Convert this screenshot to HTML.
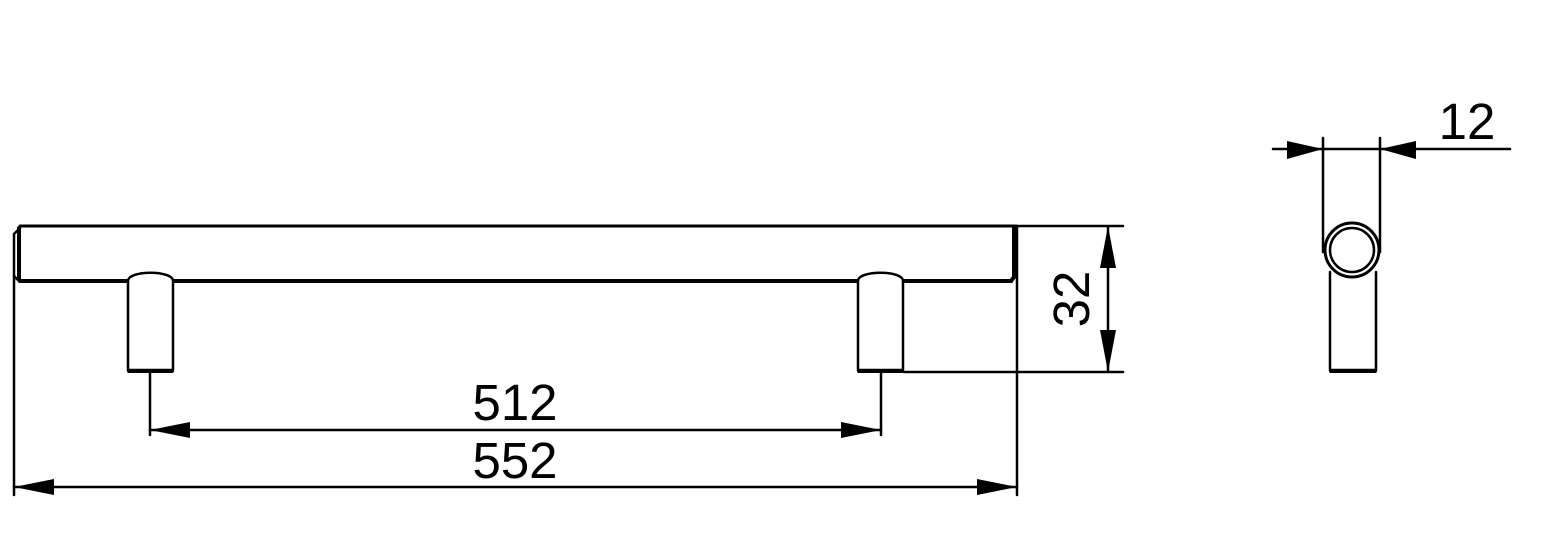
<!DOCTYPE html>
<html><head><style>html,body{margin:0;padding:0;background:#fff}</style></head>
<body>
<svg width="1549" height="545" viewBox="0 0 1549 545" xmlns="http://www.w3.org/2000/svg" font-family="Liberation Sans, sans-serif">
<g stroke="#000" fill="none" stroke-linecap="round" stroke-linejoin="round">
  <path d="M20,226 L1016,226" stroke-width="3"/>
  <path d="M20,281 L127,281 M174,281 L857,281 M904,281 L1011,281" stroke-width="4"/>
  <path d="M20,228 L14,234 L14,276 L19,281" stroke-width="2.5"/>
  <path d="M19,228 L19,280" stroke-width="4"/>
  <path d="M1014,228 L1014,277 L1011,281" stroke-width="4"/>
  <path d="M128,281 L128,370 L173,370 L173,281 C173,270 128,270 128,281" stroke-width="2.5"/>
  <path d="M129,371 L172,371" stroke-width="4"/>
  <path d="M858,281 L858,370 L903,370 L903,281 C903,270 858,270 858,281" stroke-width="2.5"/>
  <path d="M859,371 L902,371" stroke-width="4"/>
  <path d="M14,276 L14,495 M1017,226 L1017,495 M150,372 L150,435 M881,372 L881,435" stroke-width="2.5"/>
  <path d="M1000,226 L1123,226 M904,372 L1123,372 M1108,226 L1108,372" stroke-width="2.5"/>
  <path d="M150,430 L881,430 M14,487 L1017,487" stroke-width="2.5"/>
  <path d="M1323,138 L1323,252 M1380,138 L1380,252 M1273,149 L1510,149" stroke-width="2.5"/>
  <circle cx="1352" cy="250" r="27" stroke-width="3"/>
  <circle cx="1352" cy="250" r="22" stroke-width="2.5"/>
  <path d="M1330,272 L1330,370 L1376,370 L1376,272" stroke-width="2.5"/>
  <path d="M1331,371 L1375,371" stroke-width="4"/>
</g>
<g fill="#000">
  <polygon points="150,430 190,422 190,438"/>
  <polygon points="881,430 841,422 841,438"/>
  <polygon points="14,487 54,479 54,495"/>
  <polygon points="1017,487 977,479 977,495"/>
  <polygon points="1108,226 1100,268 1116,268"/>
  <polygon points="1108,372 1100,330 1116,330"/>
  <polygon points="1323,149 1287,141 1287,159"/>
  <polygon points="1380,149 1416,141 1416,159"/>
</g>
<g font-size="51" fill="#000">
  <text x="515" y="420" text-anchor="middle">512</text>
  <text x="515" y="478" text-anchor="middle">552</text>
  <text x="1467" y="139" text-anchor="middle">12</text>
  <text transform="translate(1089,299) rotate(-90)" text-anchor="middle">32</text>
</g>
</svg>
</body></html>
